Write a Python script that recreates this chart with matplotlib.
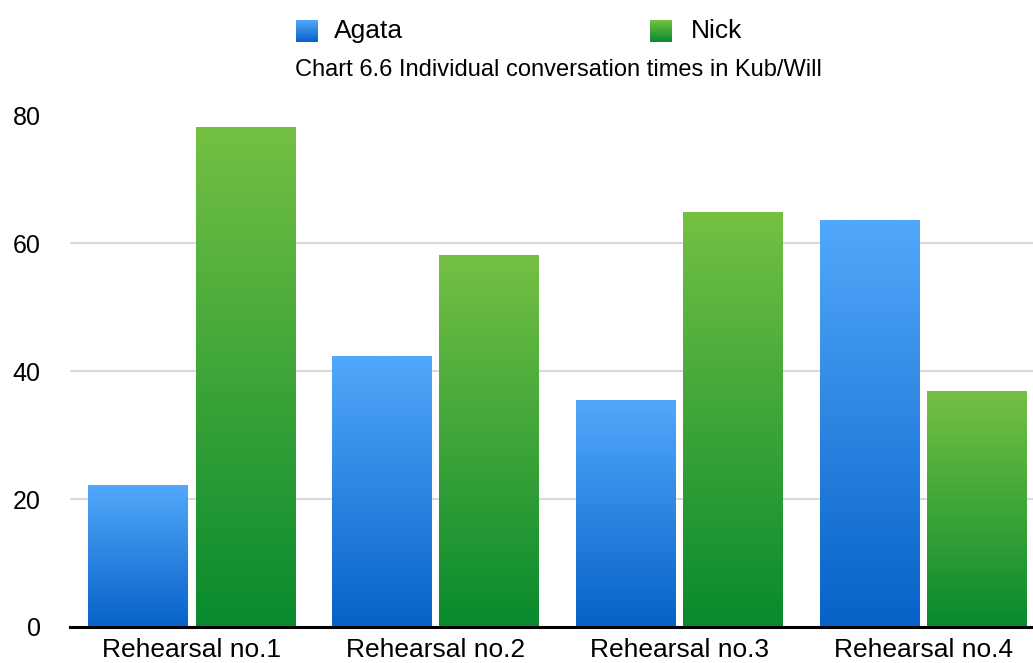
import matplotlib.pyplot as plt
import numpy as np
from matplotlib.colors import LinearSegmentedColormap

plt.rcParams['font.family'] = ['Liberation Sans', 'DejaVu Sans']

# Data
rehearsals = ['Rehearsal no.1', 'Rehearsal no.2', 'Rehearsal no.3', 'Rehearsal no.4']
agata = [22.2, 42.3, 35.5, 63.5]
nick = [78.1, 58.1, 64.8, 36.8]
yticks = [0, 20, 40, 60, 80]

blue_cmap = LinearSegmentedColormap.from_list('blue', ['#0762C8', '#52A8FA'])
green_cmap = LinearSegmentedColormap.from_list('green', ['#088A2E', '#74C043'])
grad = np.linspace(0, 1, 256).reshape(-1, 1)

fig = plt.figure(figsize=(10.33, 6.63), dpi=100)
# the plot area runs past the right edge of the picture (cropped like the original)
ax = fig.add_axes([70 / 1033, 36 / 663, 975 / 1033, (627 - 115.5) / 663])

x = np.arange(len(rehearsals))
w = 0.41
off = 0.22
bars_a = ax.bar(x - off, agata, w, color='none')
bars_n = ax.bar(x + off, nick, w, color='none')

# gradient fill, light on top, dark at bottom
for bars, cmap in [(bars_a, blue_cmap), (bars_n, green_cmap)]:
    for b in bars:
        x0, h, bw = b.get_x(), b.get_height(), b.get_width()
        ax.imshow(grad, cmap=cmap, origin='lower', aspect='auto',
                  extent=[x0, x0 + bw, 0, h], zorder=3)

ax.set_xlim(-0.5, 3.5)
ax.set_ylim(0, 80)
ax.set_yticks(yticks)
ax.set_xticks(x)
ax.set_xticklabels(rehearsals)
ax.tick_params(axis='y', length=0, labelsize=18, pad=21)
ax.tick_params(axis='x', length=0, labelsize=19, pad=8)
ax.grid(axis='y', color='#D9D9D9', linewidth=1.5, zorder=0)
ax.set_axisbelow(True)
for s in ['top', 'right', 'left']:
    ax.spines[s].set_visible(False)
ax.spines['bottom'].set_linewidth(2.2)
ax.spines['bottom'].set_zorder(5)

# legend with gradient squares
for left, cmap, label, tx in [(296, blue_cmap, 'Agata', 334), (650, green_cmap, 'Nick', 691)]:
    lax = fig.add_axes([left / 1033, 1 - 42 / 663, 22 / 1033, 22 / 663])
    lax.imshow(grad, cmap=cmap, origin='lower', aspect='auto')
    lax.axis('off')
    fig.text(tx / 1033, 1 - 31 / 663, label, fontsize=19, va='center', ha='left')

fig.text(558 / 1033, 1 - 70 / 663, 'Chart 6.6 Individual conversation times in Kub/Will',
         fontsize=17, ha='center', va='center')

fig.savefig('out.png', dpi=100)
